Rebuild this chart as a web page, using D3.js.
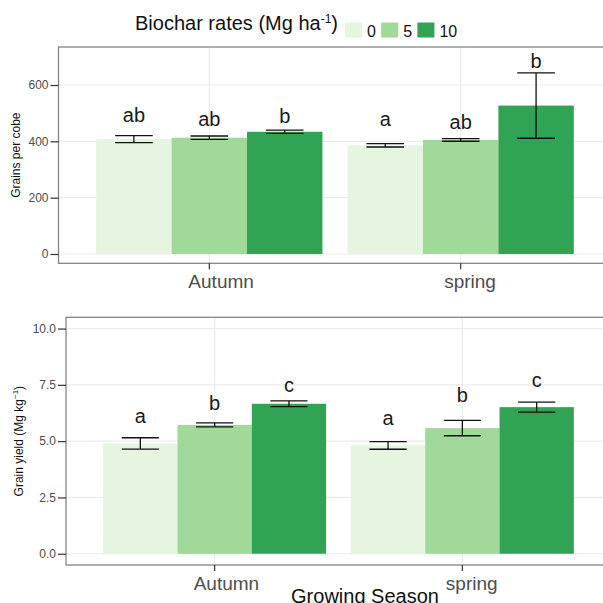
<!DOCTYPE html>
<html lang="en">
<head>
    <meta charset="UTF-8">
    <title>Biochar rates - grains per cobe and grain yield</title>
    <script src="https://d3js.org/d3.v7.min.js"></script>
    <style>
        body { margin: 0; background: #fff; }
        svg { display: block; font-family: "Liberation Sans", Arial, sans-serif; }
    </style>
</head>
<body>
    <div id="chart"></div>

    <script>
        // Categories
        const seasons = ["Autumn", "spring"];
        const rates = ["0", "5", "10"];
        const rateColors = ["#e5f5e0", "#a1d99b", "#31a354"];

        // Grains per cobe (rows = season, cols = biochar rate)
        const grainsMean = [[408, 413, 434], [386, 405, 527]];
        const grainsSE = [[12.5, 6, 6], [6, 4.6, 116]];
        const grainsLetters = [["ab", "ab", "b"], ["a", "ab", "b"]];
        const grainsLetterY = [[470, 454, 466], [454, 444, 661]];
        const grainsTicks = [0, 200, 400, 600];

        // Grain yield (Mg kg-1)
        const yieldMean = [[4.90, 5.72, 6.66], [4.81, 5.58, 6.51]];
        const yieldSE = [[0.25, 0.09, 0.13], [0.17, 0.34, 0.22]];
        const yieldLetters = [["a", "b", "c"], ["a", "b", "c"]];
        const yieldLetterY = [[5.81, 6.38, 7.19], [5.71, 6.74, 7.41]];
        const yieldTicks = [0, 2.5, 5, 7.5, 10];

        const W = 603, H = 603;
        const svg = d3.select('#chart')
            .append('svg')
            .attr('width', W)
            .attr('height', H);

        function drawPanel(p) {
            const g = svg.append('g');

            const x0 = d3.scaleBand()
                .domain(seasons)
                .range([p.left, p.right])
                .paddingInner(0.1)
                .paddingOuter(0.15);
            const x1 = d3.scaleBand()
                .domain(rates)
                .range([0, x0.bandwidth()]);
            const y = d3.scaleLinear()
                .domain(p.yDomain)
                .range([p.bottom, p.top]);

            // grid
            g.selectAll('.hgrid')
                .data(p.ticks)
                .join('line')
                .attr('x1', p.left).attr('x2', p.right)
                .attr('y1', d => y(d)).attr('y2', d => y(d))
                .style('stroke', '#ebebeb')
                .style('stroke-width', 1.2);
            g.selectAll('.vgrid')
                .data(seasons)
                .join('line')
                .attr('x1', d => x0(d) + x0.bandwidth() / 2)
                .attr('x2', d => x0(d) + x0.bandwidth() / 2)
                .attr('y1', p.top).attr('y2', p.bottom)
                .style('stroke', '#ebebeb')
                .style('stroke-width', 1.2);

            // rows of cells
            const cells = [];
            seasons.forEach((s, i) => rates.forEach((r, j) => {
                cells.push({season: s, rate: r, j: j,
                    mean: p.means[i][j], se: p.ses[i][j],
                    letter: p.letters[i][j], ly: p.letterY[i][j]});
            }));
            const cx = d => x0(d.season) + x1(d.rate) + x1.bandwidth() / 2;
            const cap = x1.bandwidth() / 4;

            g.selectAll('.bar')
                .data(cells)
                .join('rect')
                .attr('x', d => x0(d.season) + x1(d.rate))
                .attr('width', x1.bandwidth())
                .attr('y', d => y(d.mean))
                .attr('height', d => y(0) - y(d.mean))
                .style('fill', d => rateColors[d.j]);

            const eb = g.selectAll('.err')
                .data(cells)
                .join('g')
                .style('stroke', '#111')
                .style('stroke-width', 1.3);
            eb.append('line')
                .attr('x1', cx).attr('x2', cx)
                .attr('y1', d => y(d.mean + d.se)).attr('y2', d => y(d.mean - d.se));
            eb.append('line')
                .attr('x1', d => cx(d) - cap).attr('x2', d => cx(d) + cap)
                .attr('y1', d => y(d.mean + d.se)).attr('y2', d => y(d.mean + d.se));
            eb.append('line')
                .attr('x1', d => cx(d) - cap).attr('x2', d => cx(d) + cap)
                .attr('y1', d => y(d.mean - d.se)).attr('y2', d => y(d.mean - d.se));

            g.selectAll('.letter')
                .data(cells)
                .join('text')
                .attr('x', cx)
                .attr('y', d => y(d.ly))
                .attr('text-anchor', 'middle')
                .style('font-size', '20px')
                .style('fill', '#1a1a1a')
                .text(d => d.letter);

            // panel border
            g.append('rect')
                .attr('x', p.left).attr('y', p.top)
                .attr('width', p.right - p.left).attr('height', p.bottom - p.top)
                .style('fill', 'none')
                .style('stroke', '#858585')
                .style('stroke-width', 1.3);

            // y axis
            const ya = g.append('g')
                .attr('transform', `translate(${p.left},0)`)
                .call(d3.axisLeft(y).tickValues(p.ticks).tickFormat(p.fmt).tickSize(8).tickPadding(2));
            ya.select('.domain').remove();
            ya.selectAll('.tick line').style('stroke', '#333').style('stroke-width', 1.2);
            ya.selectAll('.tick text')
                .style('font-size', '12px')
                .style('fill', '#4d4d4d')
                .style('font-family', '"Liberation Sans", Arial, sans-serif');

            // x axis
            const xa = g.append('g')
                .attr('transform', `translate(0,${p.bottom})`)
                .call(d3.axisBottom(x0).tickSize(6).tickPadding(4));
            xa.select('.domain').remove();
            xa.selectAll('.tick line').style('stroke', '#333').style('stroke-width', 1.2);
            xa.selectAll('.tick text')
                .style('font-size', '19px')
                .style('fill', '#4d4d4d')
                .style('font-family', '"Liberation Sans", Arial, sans-serif')
                .attr('text-anchor', 'start')
                .attr('dy', null)
                .attr('y', 24.5)
                .attr('x', function () { return -0.32 * this.getComputedTextLength(); });

            // y title
            const yt = g.append('text')
                .attr('transform', `translate(${p.yTitleX},${(p.top + p.bottom) / 2}) rotate(-90)`)
                .attr('text-anchor', 'middle')
                .style('font-size', '12px')
                .style('fill', '#111');
            p.yTitle(yt);
        }

        drawPanel({
            left: 58.5, right: 611.5, top: 47, bottom: 263.3,
            yDomain: [-33, 735], ticks: grainsTicks, fmt: d3.format('d'),
            means: grainsMean, ses: grainsSE, letters: grainsLetters, letterY: grainsLetterY,
            yTitleX: 20,
            yTitle: t => t.text('Grains per cobe')
        });

        drawPanel({
            left: 66, right: 611, top: 317.3, bottom: 565,
            yDomain: [-0.5, 10.5], ticks: yieldTicks, fmt: d3.format('.1f'),
            means: yieldMean, ses: yieldSE, letters: yieldLetters, letterY: yieldLetterY,
            yTitleX: 23,
            yTitle: t => {
                t.append('tspan').text('Grain yield (Mg kg');
                t.append('tspan').attr('dy', -5).style('font-size', '8px').text('\u22121');
                t.append('tspan').attr('dy', 5).text(')');
            }
        });

        // x axis title (bottom), cut by the lower edge as in the source figure
        svg.append('text')
            .attr('x', 365)
            .attr('y', 603)
            .attr('text-anchor', 'middle')
            .style('font-size', '20px')
            .style('fill', '#111')
            .text('Growing Season');

        // legend
        const legend = svg.append('g');
        const lt = legend.append('text')
            .attr('x', 135)
            .attr('y', 29.5)
            .style('font-size', '20px')
            .style('fill', '#111');
        lt.append('tspan').text('Biochar rates (Mg ha');
        lt.append('tspan').attr('dy', -7).style('font-size', '12px').text('-1');
        lt.append('tspan').attr('dy', 7).text(')');

        const items = legend.selectAll('.item')
            .data(rates)
            .join('g')
            .attr('transform', (d, i) => `translate(${345 + i * 36.2},22.5)`);
        items.append('rect')
            .attr('width', 17)
            .attr('height', 15)
            .style('fill', (d, i) => rateColors[i]);
        items.append('text')
            .attr('x', 22)
            .attr('y', 14)
            .style('font-size', '16px')
            .style('fill', '#111')
            .text(d => d);
    </script>
</body>
</html>
